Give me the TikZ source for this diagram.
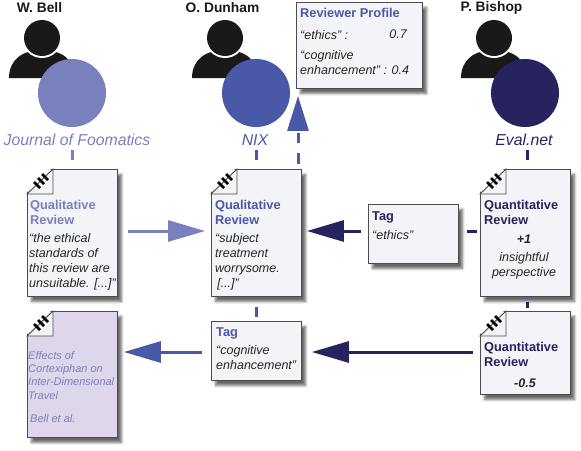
\documentclass[tikz,border=0pt]{standalone}
\usepackage{fontspec}
\setmainfont{Liberation Sans}
\usepackage{xcolor}
\usetikzlibrary{arrows.meta,shadows.blur}

\definecolor{lightblue}{HTML}{7A7FBD}
\definecolor{midblue}{HTML}{4A58A8}
\definecolor{darkblue}{HTML}{27235F}
\definecolor{paper}{HTML}{F3F4F7}
\definecolor{lilac}{HTML}{DED6EA}

\tikzset{
	card/.style={draw=black!70, line width=0.9pt, fill=paper, minimum width=90pt, inner sep=0pt, anchor=north west,
		blur shadow={shadow xshift=4pt, shadow yshift=-5pt, shadow blur radius=2.5pt, shadow blur steps=6, shadow opacity=60}},
	flow/.style={line width=3pt, -{Triangle[length=37pt,width=21pt]}},
	link/.style={line width=3pt},
	person/.style={font=\bfseries\fontsize{13.8}{15}\selectfont, text=black!90},
	venue/.style={font=\itshape\fontsize{15.8}{20}\selectfont},
	head/.style={inner sep=0pt, font=\bfseries\fontsize{12.8}{15}\selectfont, align=left, anchor=north west},
	body/.style={inner sep=0pt, text=black!85, font=\itshape\fontsize{12.5}{15}\selectfont, align=left, anchor=north west},
	small/.style={text=lightblue, font=\itshape\fontsize{11}{13.3}\selectfont},
}

% coin replie d'un document
\newcommand{\dogear}[1]{
	\fill[white] ([shift={(-2,-2)}]#1.north west) -- ([shift={(26,-2)}]#1.north west) -- ([shift={(-2,25)}]#1.north west) -- cycle;
	\draw[draw=black!70, line width=0.9pt, fill=paper] ([shift={(26,0)}]#1.north west) -- ([shift={(0,25)}]#1.north west) -- ([shift={(26,25)}]#1.north west) -- cycle;
	\foreach \i in {0,1,2}
		\draw[black, line width=2.5pt] ([shift={(7+4*\i,13-4*\i)}]#1.north west) -- ++(6,6);
}

\newcommand{\reviewer}[5]{
	\fill[black!90] (#1-33,78) .. controls (#1-33,60) and (#1-20,50) .. (#1,50) .. controls (#1+20,50) and (#1+33,60) .. (#1+33,78) -- cycle;
	\fill[white] (#1,38) circle (20);
	\fill[black!90] (#1,38) circle (18);
	\fill[#3] (#2,93) circle (34);
	\node[person] (#4) at (#1-2.5,8) {#5};
}

\begin{document}
\begin{tikzpicture}[x=1pt,y=-1pt]
	\useasboundingbox (0,0) rectangle (581,450);

	% Personnes
	\reviewer{42}{72}{lightblue}{bell}{W. Bell}
	\reviewer{225}{256}{midblue}{dunham}{O. Dunham}
	\reviewer{494}{525}{darkblue}{bishop}{P. Bishop}

	% Revues
	\node[venue, text=lightblue] (foomatics) at (77,140) {Journal of Foomatics};
	\node[venue, text=midblue] (nix) at (255,140) {NIX};
	\node[venue, text=darkblue] (evalnet) at (524,140) {Eval.net};

	% Documents
	\node[card, minimum height=127pt] (bellreview) at (27,169) {};
	\node[card, minimum height=127pt] (dunhamreview) at (211,169) {};
	\node[card, minimum height=127pt] (bishopreview) at (480,169) {};
	\node[card, minimum height=126pt, fill=lilac] (paperdoc) at (27,311) {};
	\node[card, minimum height=83pt] (bishoprating) at (480,311) {};
	\dogear{bellreview}
	\dogear{dunhamreview}
	\dogear{bishopreview}
	\dogear{paperdoc}
	\dogear{bishoprating}

	% Etiquettes
	\node[card, minimum height=59pt] (ethicstag) at (368,204) {};
	\node[card, minimum height=59pt] (cogtag) at (211,321) {};
	\node[card, minimum width=126pt, minimum height=86pt] (profile) at (296,2) {};

	% Textes
	\node[head, text=lightblue] (t1) at (30,200) {Qualitative\\Review};
	\node[body] (b1) at (29,233) {“the ethical\\standards of\\this review are\\unsuitable. [...]”};
	\node[head, text=midblue] (t2) at (215,200) {Qualitative\\Review};
	\node[body] (b2) at (215,233) {“subject\\treatment\\worrysome.\\ \,[...]”};
	\node[head, text=darkblue] (t3) at (484,200) {Quantitative\\Review};
	\node[body, align=center, anchor=north] (b3) at (524,235) {\textbf{+1}\\[3pt]insightful\\perspective};
	\node[head, text=darkblue] (t4) at (484,342) {Quantitative\\Review};
	\node[body, anchor=north] (b4) at (525,379) {\textbf{-0.5}};
	\node[head, text=darkblue] (t5) at (372,211) {Tag};
	\node[body] (b5) at (372,230) {“ethics”};
	\node[head, text=midblue] (t6) at (216,327) {Tag};
	\node[body] (b6) at (216,345) {“cognitive\\enhancement”};
	\node[head, text=midblue] (t7) at (300,8) {Reviewer Profile};
	\node[body] (b7) at (300,30) {“ethics” :};
	\node[body, anchor=north east] (b8) at (407,30) {0.7};
	\node[body] (b9) at (300,50) {“cognitive\\enhancement” : 0.4};
	\node[body, small] (b10) at (28,351) {Effects of\\Cortexiphan on\\Inter-Dimensional\\Travel};
	\node[body, small] (b11) at (30,414) {Bell et al.};

	% Liens
	\draw[link, lightblue] (foomatics.south -| 72,0) ++(0,1) -- ++(0,10);
	\draw[link, midblue] (nix.south -| 256,0) ++(0,1) -- ++(0,10);
	\draw[link, darkblue] (evalnet.south -| 527,0) ++(0,1) -- ++(0,10);
	\draw[link, darkblue] (bishopreview.south -| 527,0) ++(0,5) -- ++(0,6);
	\draw[link, midblue] (dunhamreview.south -| 256,0) ++(0,10) -- ++(0,10);
	\draw[link, darkblue] (ethicstag.east |- 0,231) ++(8,0) -- ++(10,0);
	\draw[link, midblue] (298,164) -- (298,153);
	\draw[link, midblue] (298,143) -- (298,133);

	% Fleches
	\draw[flow, lightblue] (bellreview.east |- 0,231) ++(10,0) -- ([xshift=-6]dunhamreview.west |- 0,231);
	\draw[flow, darkblue] (ethicstag.west |- 0,231) ++(-7,0) -- ([xshift=5]dunhamreview.east |- 0,231);
	\draw[flow, darkblue] (bishoprating.west |- 0,352) ++(-7,0) -- ([xshift=10]cogtag.east |- 0,352);
	\draw[flow, midblue] (cogtag.west |- 0,352) ++(-9,0) -- ([xshift=6]paperdoc.east |- 0,352);
	\draw[line width=3pt, midblue, -{Triangle[length=35pt,width=21pt]}] (298,131) -- ([yshift=-7]profile.south -| 298,0);
\end{tikzpicture}
\end{document}
